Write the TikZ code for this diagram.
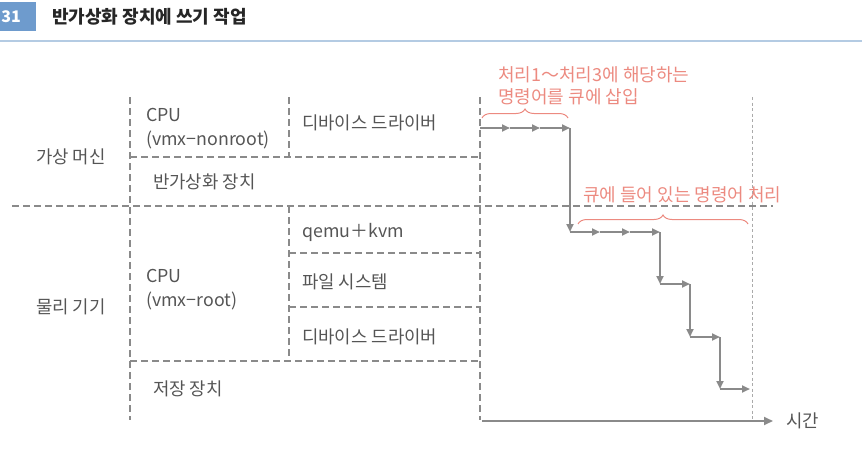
\documentclass[tikz,border=0pt]{standalone}
\usepackage{fontspec}
\setmainfont{Noto Sans CJK KR}
\usetikzlibrary{arrows.meta,decorations.pathreplacing}
\definecolor{lgray}{HTML}{8A8A8A}
\definecolor{dgray}{HTML}{AAAAAA}
\definecolor{tgray}{HTML}{555555}
\definecolor{salmon}{HTML}{EC8A80}
\definecolor{hblue}{HTML}{6E9BCD}
\definecolor{hline}{HTML}{B4CBE3}
\begin{document}
\begin{tikzpicture}[x=1pt,y=1pt,
  gridline/.style={draw=lgray,line width=1.8pt,dash pattern=on 7pt off 4pt},
  thinline/.style={draw=dgray,line width=0.8pt,dash pattern=on 3pt off 2.5pt},
  flow/.style={draw=lgray,line width=2pt,-{Triangle[length=8pt,width=7pt]}},
  axis/.style={draw=lgray,line width=1.8pt,-{Triangle[length=9pt,width=8pt]}},
  lbl/.style={anchor=west,inner sep=0pt,text=tgray,font=\fontsize{17.8}{24}\selectfont,align=left},
  note/.style={anchor=west,inner sep=0pt,text=salmon,font=\fontsize{18}{22}\selectfont,align=left},
  bracebox/.style={draw=salmon,line width=1pt,decorate,decoration={brace,amplitude=9pt}}]
\useasboundingbox (0,0) rectangle (862,-452);
% header
\fill[hblue] (0,-2) rectangle (36,-31);
\node[anchor=east,inner sep=0pt,text=white,font=\fontsize{16}{18}\selectfont\bfseries] (num) at (21,-17) {31};
\node[anchor=west,inner sep=0pt,text=black!85,font=\fontsize{18}{20}\selectfont\bfseries] (title) at (52,-17) {반가상화 장치에 쓰기 작업};
\draw[hline,line width=1.5pt] (0,-41) -- (862,-41);
% grid coordinates
\coordinate (a1) at (130,-97);  \coordinate (a2) at (130,-420);
\coordinate (b1) at (289,-97);  \coordinate (b2) at (289,-157);
\coordinate (b3) at (289,-206); \coordinate (b4) at (289,-361);
\coordinate (c1) at (480,-97);  \coordinate (c2) at (480,-420);
\coordinate (h1l) at (130,-157); \coordinate (h1r) at (480,-157);
\coordinate (h2l) at (12,-206);  \coordinate (h2r) at (773,-206);
\coordinate (h3l) at (289,-253); \coordinate (h3r) at (480,-253);
\coordinate (h4l) at (289,-307); \coordinate (h4r) at (480,-307);
\coordinate (h5l) at (130,-361); \coordinate (h5r) at (480,-361);
\coordinate (d1) at (752,-97);  \coordinate (d2) at (752,-420);
\draw[gridline] (a1) -- (a2);
\draw[gridline] (b1) -- (b2);
\draw[gridline] (b3) -- (b4);
\draw[gridline] (c1) -- (c2);
\draw[gridline] (h1l) -- (h1r);
\draw[gridline] (h2l) -- (h2r);
\draw[gridline] (h3l) -- (h3r);
\draw[gridline] (h4l) -- (h4r);
\draw[gridline] (h5l) -- (h5r);
\draw[thinline] (d1) -- (d2);
% time axis
\coordinate (t0) at (482,-421);
\node[lbl] (time) at (786,-421) {시간};
\draw[axis] (t0) -- (773,-421);
% labels
\node[lbl] (vm) at (36,-157) {가상 머신};
\node[lbl] (hw) at (36,-307) {물리 기기};
\node[lbl] (cpu1) at (146,-129) {CPU\\(vmx−nonroot)};
\node[lbl] (drv1) at (302,-123) {디바이스 드라이버};
\node[lbl] (pv) at (153,-182) {반가상화 장치};
\node[lbl] (qemu) at (302,-232) {qemu＋kvm};
\node[lbl] (cpu2) at (146,-290) {CPU\\(vmx−root)};
\node[lbl] (fs) at (302,-282) {파일 시스템};
\node[lbl] (drv2) at (302,-337) {디바이스 드라이버};
\node[lbl] (st) at (153,-389) {저장 장치};
% notes
\node[note] (n1) at (498,-86) {처리1～처리3에 해당하는\\명령어를 큐에 삽입};
\node[note] (n2) at (583,-195) {큐에 들어 있는 명령어 처리};
\draw[bracebox] (482,-118) -- (568,-118);
\draw[bracebox] (578,-224) -- (748,-224);
% staircase
\coordinate (p0) at (480,-128);
\coordinate (p1) at (510,-128);
\coordinate (p2) at (540,-128);
\coordinate (p3) at (570,-128);
\coordinate (q0) at (570,-232);
\coordinate (q1) at (600,-232);
\coordinate (q2) at (630,-232);
\coordinate (q3) at (660,-232);
\coordinate (r0) at (660,-284);
\coordinate (r1) at (690,-284);
\coordinate (s0) at (690,-337);
\coordinate (s1) at (720,-337);
\coordinate (u0) at (720,-389);
\coordinate (u1) at (750,-389);
\draw[flow] (p0) -- (p1);
\draw[flow] (p1) -- (p2);
\draw[flow] (p2) -- (p3);
\draw[flow] (p3) -- (q0);
\draw[flow] (q0) -- (q1);
\draw[flow] (q1) -- (q2);
\draw[flow] (q2) -- (q3);
\draw[flow] (q3) -- (r0);
\draw[flow] (r0) -- (r1);
\draw[flow] (r1) -- (s0);
\draw[flow] (s0) -- (s1);
\draw[flow] (s1) -- (u0);
\draw[flow] (u0) -- (u1);
\end{tikzpicture}
\end{document}
